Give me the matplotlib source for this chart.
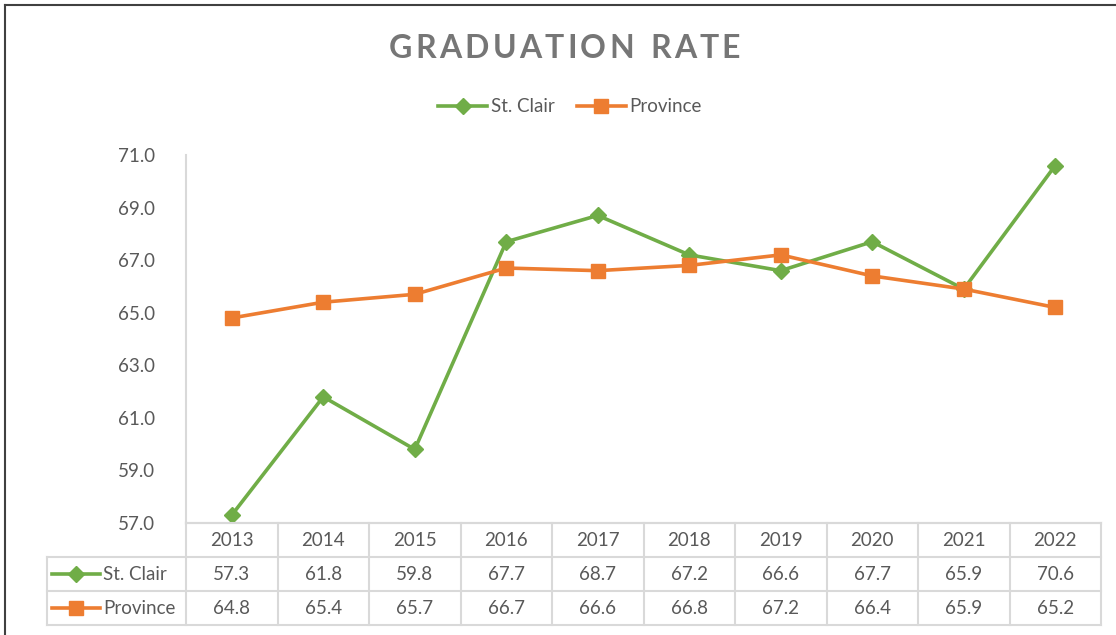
import matplotlib.pyplot as plt
from matplotlib.lines import Line2D

years = ['2013', '2014', '2015', '2016', '2017', '2018', '2019', '2020', '2021', '2022']
st_clair = [57.3, 61.8, 59.8, 67.7, 68.7, 67.2, 66.6, 67.7, 65.9, 70.6]
province = [64.8, 65.4, 65.7, 66.7, 66.6, 66.8, 67.2, 66.4, 65.9, 65.2]
y_ticks = [57, 59, 61, 63, 65, 67, 69, 71]

GREEN = '#70AD47'
ORANGE = '#ED7D31'
TEXT = '#595959'
GRID = '#D9D9D9'

plt.rcParams['font.family'] = ['Lato', 'DejaVu Sans']

W, H = 1116, 635
fig = plt.figure(figsize=(W / 100, H / 100), dpi=100)


def box(x0, y0, x1, y1):
    # pixel box (top-left origin) -> figure fraction rect
    return [x0 / W, 1 - y1 / H, (x1 - x0) / W, (y1 - y0) / H]


# main plot area
ax = fig.add_axes(box(186, 155, 1101, 523))
x = list(range(len(years)))
ax.plot(x, st_clair, color=GREEN, lw=2.6, marker='D', ms=8, label='St. Clair', zorder=3)
ax.plot(x, province, color=ORANGE, lw=2.6, marker='s', ms=10, label='Province', zorder=3)
ax.set_xlim(-0.5, len(years) - 0.5)
ax.set_ylim(57, 71)
ax.set_yticks(y_ticks)
ax.set_yticklabels(['%.1f' % v for v in y_ticks])
ax.set_xticks([])
ax.tick_params(axis='y', length=0, pad=22, labelsize=13.5, labelcolor=TEXT)
for s in ['top', 'right']:
    ax.spines[s].set_visible(False)
for s in ['left', 'bottom']:
    ax.spines[s].set_color(GRID)
    ax.spines[s].set_linewidth(1.5)
for m in [ax.lines[0], ax.lines[1]]:
    m.set_clip_on(False)

# data table below
n = len(years)
lab_w = 139 / 91.5
tab = fig.add_axes(box(47, 523, 1101, 625))
tab.set_xlim(-0.5 - lab_w, n - 0.5)
tab.set_ylim(3, 0)
tab.axis('off')
lw = 1.5
tab.plot([-0.5, n - 0.5], [0, 0], color=GRID, lw=lw)
for yy in [1, 2, 3]:
    tab.plot([-0.5 - lab_w, n - 0.5], [yy, yy], color=GRID, lw=lw)
for i in range(n + 1):
    tab.plot([i - 0.5, i - 0.5], [0, 3], color=GRID, lw=lw)
tab.plot([-0.5 - lab_w] * 2, [1, 3], color=GRID, lw=lw)
for c in tab.lines:
    c.set_clip_on(False)

for i, yr in enumerate(years):
    tab.text(i, 0.5, yr, ha='center', va='center', fontsize=13.5, color=TEXT)
    tab.text(i, 1.5, '%.1f' % st_clair[i], ha='center', va='center', fontsize=13.5, color=TEXT)
    tab.text(i, 2.5, '%.1f' % province[i], ha='center', va='center', fontsize=13.5, color=TEXT)

# legend keys inside the table
x0 = -0.5 - lab_w + 5 / 91.5
x1 = x0 + 48 / 91.5
for row, (name, col, mk, ms) in enumerate([('St. Clair', GREEN, 'D', 8), ('Province', ORANGE, 's', 10)]):
    yy = 1.5 + row
    tab.plot([x0, x1], [yy, yy], color=col, lw=2.6, clip_on=False)
    tab.plot([(x0 + x1) / 2], [yy], marker=mk, ms=ms, color=col, clip_on=False)
    tab.text(x1 + 3 / 91.5, yy, name, ha='left', va='center', fontsize=13.5, color=TEXT)

# title with letter spacing, placed char by char
title = 'GRADUATION RATE'
tkw = dict(fontsize=23, fontweight='bold', color='#767676', va='center', ha='left')
renderer = fig.canvas.get_renderer()
widths = []
for ch in title:
    t = fig.text(0, 0, ch if ch != ' ' else 'n', **tkw)
    widths.append(t.get_window_extent(renderer).width * (0.55 if ch == ' ' else 1))
    t.remove()
spacing = 3.2
total = sum(widths) + spacing * (len(title) - 1)
xp = 392 + (345 - total) / 2
for ch, w in zip(title, widths):
    if ch != ' ':
        fig.text(xp / W, 1 - 48 / H, ch, **tkw)
    xp += w + spacing

handles = [Line2D([0], [0], color=GREEN, lw=2.6, marker='D', ms=8),
           Line2D([0], [0], color=ORANGE, lw=2.6, marker='s', ms=10)]
fig.legend(handles, ['St. Clair', 'Province'], loc='center', bbox_to_anchor=(570 / W, 1 - 107 / H),
           ncol=2, frameon=False, fontsize=13.5, labelcolor=TEXT, handlelength=2.6,
           handletextpad=0.2, columnspacing=1.2)

# chart border (left and top visible)
fig.add_artist(Line2D([5 / W, 5 / W], [0, 1 - 5 / H], color='#404040', lw=1.5))
fig.add_artist(Line2D([5 / W, 1], [1 - 5 / H, 1 - 5 / H], color='#404040', lw=1.5))

fig.savefig('out.png', dpi=100)
